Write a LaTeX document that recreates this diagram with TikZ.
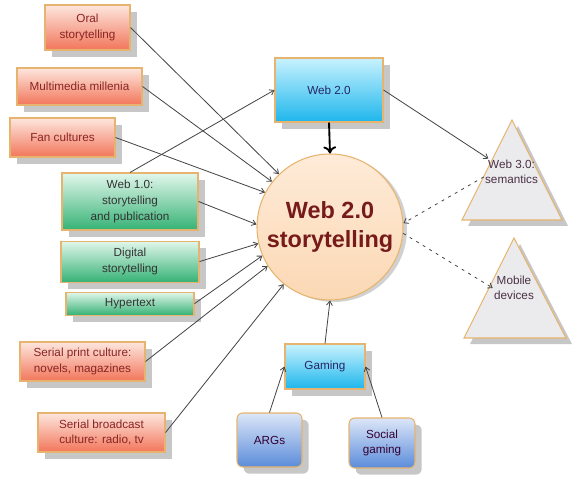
\documentclass[tikz,border=0pt]{standalone}
\usepackage{fontspec}
\setmainfont{Liberation Sans}
\usetikzlibrary{shapes.geometric, arrows.meta, positioning, shadows}

\definecolor{edgetan}{HTML}{E6B46E}
\definecolor{oldtop}{HTML}{FDE6DE}
\definecolor{oldbot}{HTML}{F2765A}
\definecolor{oldtext}{HTML}{8A2424}
\definecolor{greentop}{HTML}{E2F7EC}
\definecolor{greenbot}{HTML}{36B275}
\definecolor{cyantop}{HTML}{C8F2FE}
\definecolor{cyanbot}{HTML}{1EB6EC}
\definecolor{bluetop}{HTML}{DCE6F8}
\definecolor{bluebot}{HTML}{5B8CDA}
\definecolor{hubtop}{HTML}{FEEBD8}
\definecolor{hubbot}{HTML}{FBD8B4}
\definecolor{hubtext}{HTML}{761A1A}
\definecolor{trifill}{HTML}{EBEBEE}
\definecolor{tritext}{HTML}{4A3044}
\definecolor{linkgray}{HTML}{454545}

\begin{document}
\begin{tikzpicture}[
            x=0.03cm, y=-0.03cm,
            box/.style={rectangle, draw=edgetan, line width=0.9pt, align=center, inner sep=1pt,
                font=\fontsize{10}{13.5}\selectfont,
                drop shadow={shadow xshift=0.2cm, shadow yshift=-0.2cm, fill=black!22, opacity=1}},
            oldbox/.style={box, top color=oldtop, bottom color=oldbot, text=oldtext},
            webbox/.style={box, top color=greentop, bottom color=greenbot, text=black!80},
            newbox/.style={box, top color=cyantop, bottom color=cyanbot, text=blue!30!black!85},
            gamebox/.style={box, rounded corners=5pt, top color=bluetop, bottom color=bluebot, text=violet!40!black},
            hubcircle/.style={circle, draw=edgetan, line width=0.9pt, minimum size=4.38cm, inner sep=0pt,
                top color=hubtop, bottom color=hubbot, text=hubtext, align=center,
                font=\fontsize{20}{25.5}\selectfont\bfseries,
                drop shadow={shadow xshift=0.12cm, shadow yshift=-0.06cm, fill=black!18, opacity=1}},
            tri/.style={fill=trifill, draw=edgetan, line width=0.9pt,
                drop shadow={shadow xshift=0.18cm, shadow yshift=-0.18cm, fill=black!22, opacity=1}},
            tritext/.style={align=center, inner sep=1pt, text=tritext, font=\fontsize{10}{13}\selectfont},
            link/.style={draw=linkgray, line width=0.7pt, -{Straight Barb[length=3.5pt, width=5pt]}},
            maybe/.style={link, dash pattern=on 2.5pt off 4pt}
        ]
        \useasboundingbox (0,0) rectangle (582,480);

        % Older forms
        \node[oldbox, minimum width=2.55cm, minimum height=1.35cm] (oral) at (87.5,27.5) {Oral\\storytelling};
        \node[oldbox, minimum width=3.75cm, minimum height=1.11cm] (multi) at (79.5,86.5) {Multimedia millenia};
        \node[oldbox, minimum width=3.15cm, minimum height=1.17cm] (fan) at (62.5,137.5) {Fan cultures};
        \node[oldbox, minimum width=3.75cm, minimum height=1.17cm] (print) at (82.5,361.5) {Serial print culture:\\novels, magazines};
        \node[oldbox, minimum width=3.81cm, minimum height=1.17cm] (bcast) at (101.5,432.5) {Serial broadcast\\culture: radio, tv};

        % Web 1.0 forms
        \node[webbox, minimum width=4.08cm, minimum height=1.71cm] (web1) at (130,201.5) {Web 1.0:\\storytelling\\and publication};
        \node[webbox, minimum width=4.14cm, minimum height=1.23cm, below=0.3cm of web1] (digital) {Digital\\storytelling};
        \node[webbox, minimum width=3.84cm, minimum height=0.69cm, below=0.27cm of digital] (hyper) {Hypertext};

        % Centre
        \node[newbox, minimum width=3.24cm, minimum height=1.92cm] (web2) at (329,90) {Web 2.0};
        \node[hubcircle] (hub) at (330,227) {Web 2.0\\storytelling};

        % Gaming
        \node[newbox, minimum width=2.4cm, minimum height=1.35cm] (gaming) at (325,366.5) {Gaming};
        \node[gamebox, minimum width=1.95cm, minimum height=1.62cm] (args) at (269.5,440) {ARGs};
        \node[gamebox, minimum width=1.98cm, minimum height=1.5cm] (social) at (382,443) {Social\\gaming};

        % Next steps
        \path[tri] (512,120) -- (562,220) -- (462,220) -- cycle;
        \node[tritext] (web3) at (511.5,172) {Web 3.0:\\semantics};
        \path[tri] (514,238) -- (566,338) -- (464,338) -- cycle;
        \node[tritext] (mobile) at (514,288) {Mobile\\devices};

        % Connections
        \draw[link] (oral.east) -- (hub.134);
        \draw[link] (multi.east) -- (hub.142);
        \draw[link] (fan.east) -- (hub.152);
        \draw[link] (web1.east) -- (hub.178);
        \draw[link] (web1.north) -- (web2.west);
        \draw[link] (digital.east) -- (hub.193);
        \draw[link] (hyper.east) -- (hub.203);
        \draw[link] (print.east) -- (hub.212);
        \draw[link] (bcast.east) -- (hub.231);
        \draw[line width=1.6pt, -{To[length=6pt, width=11pt]}] (web2.south) -- (hub.north);
        \draw[link] (web2.east) -- (web3.150);
        \draw[maybe] (web3.190) -- (hub.3);
        \draw[maybe] (hub.-5) -- (mobile.west);
        \draw[link] (gaming.north) -- (hub.south);
        \draw[link] (args.north) -- (gaming.west);
        \draw[link] (social.north) -- (gaming.east);

    \end{tikzpicture}
\end{document}
